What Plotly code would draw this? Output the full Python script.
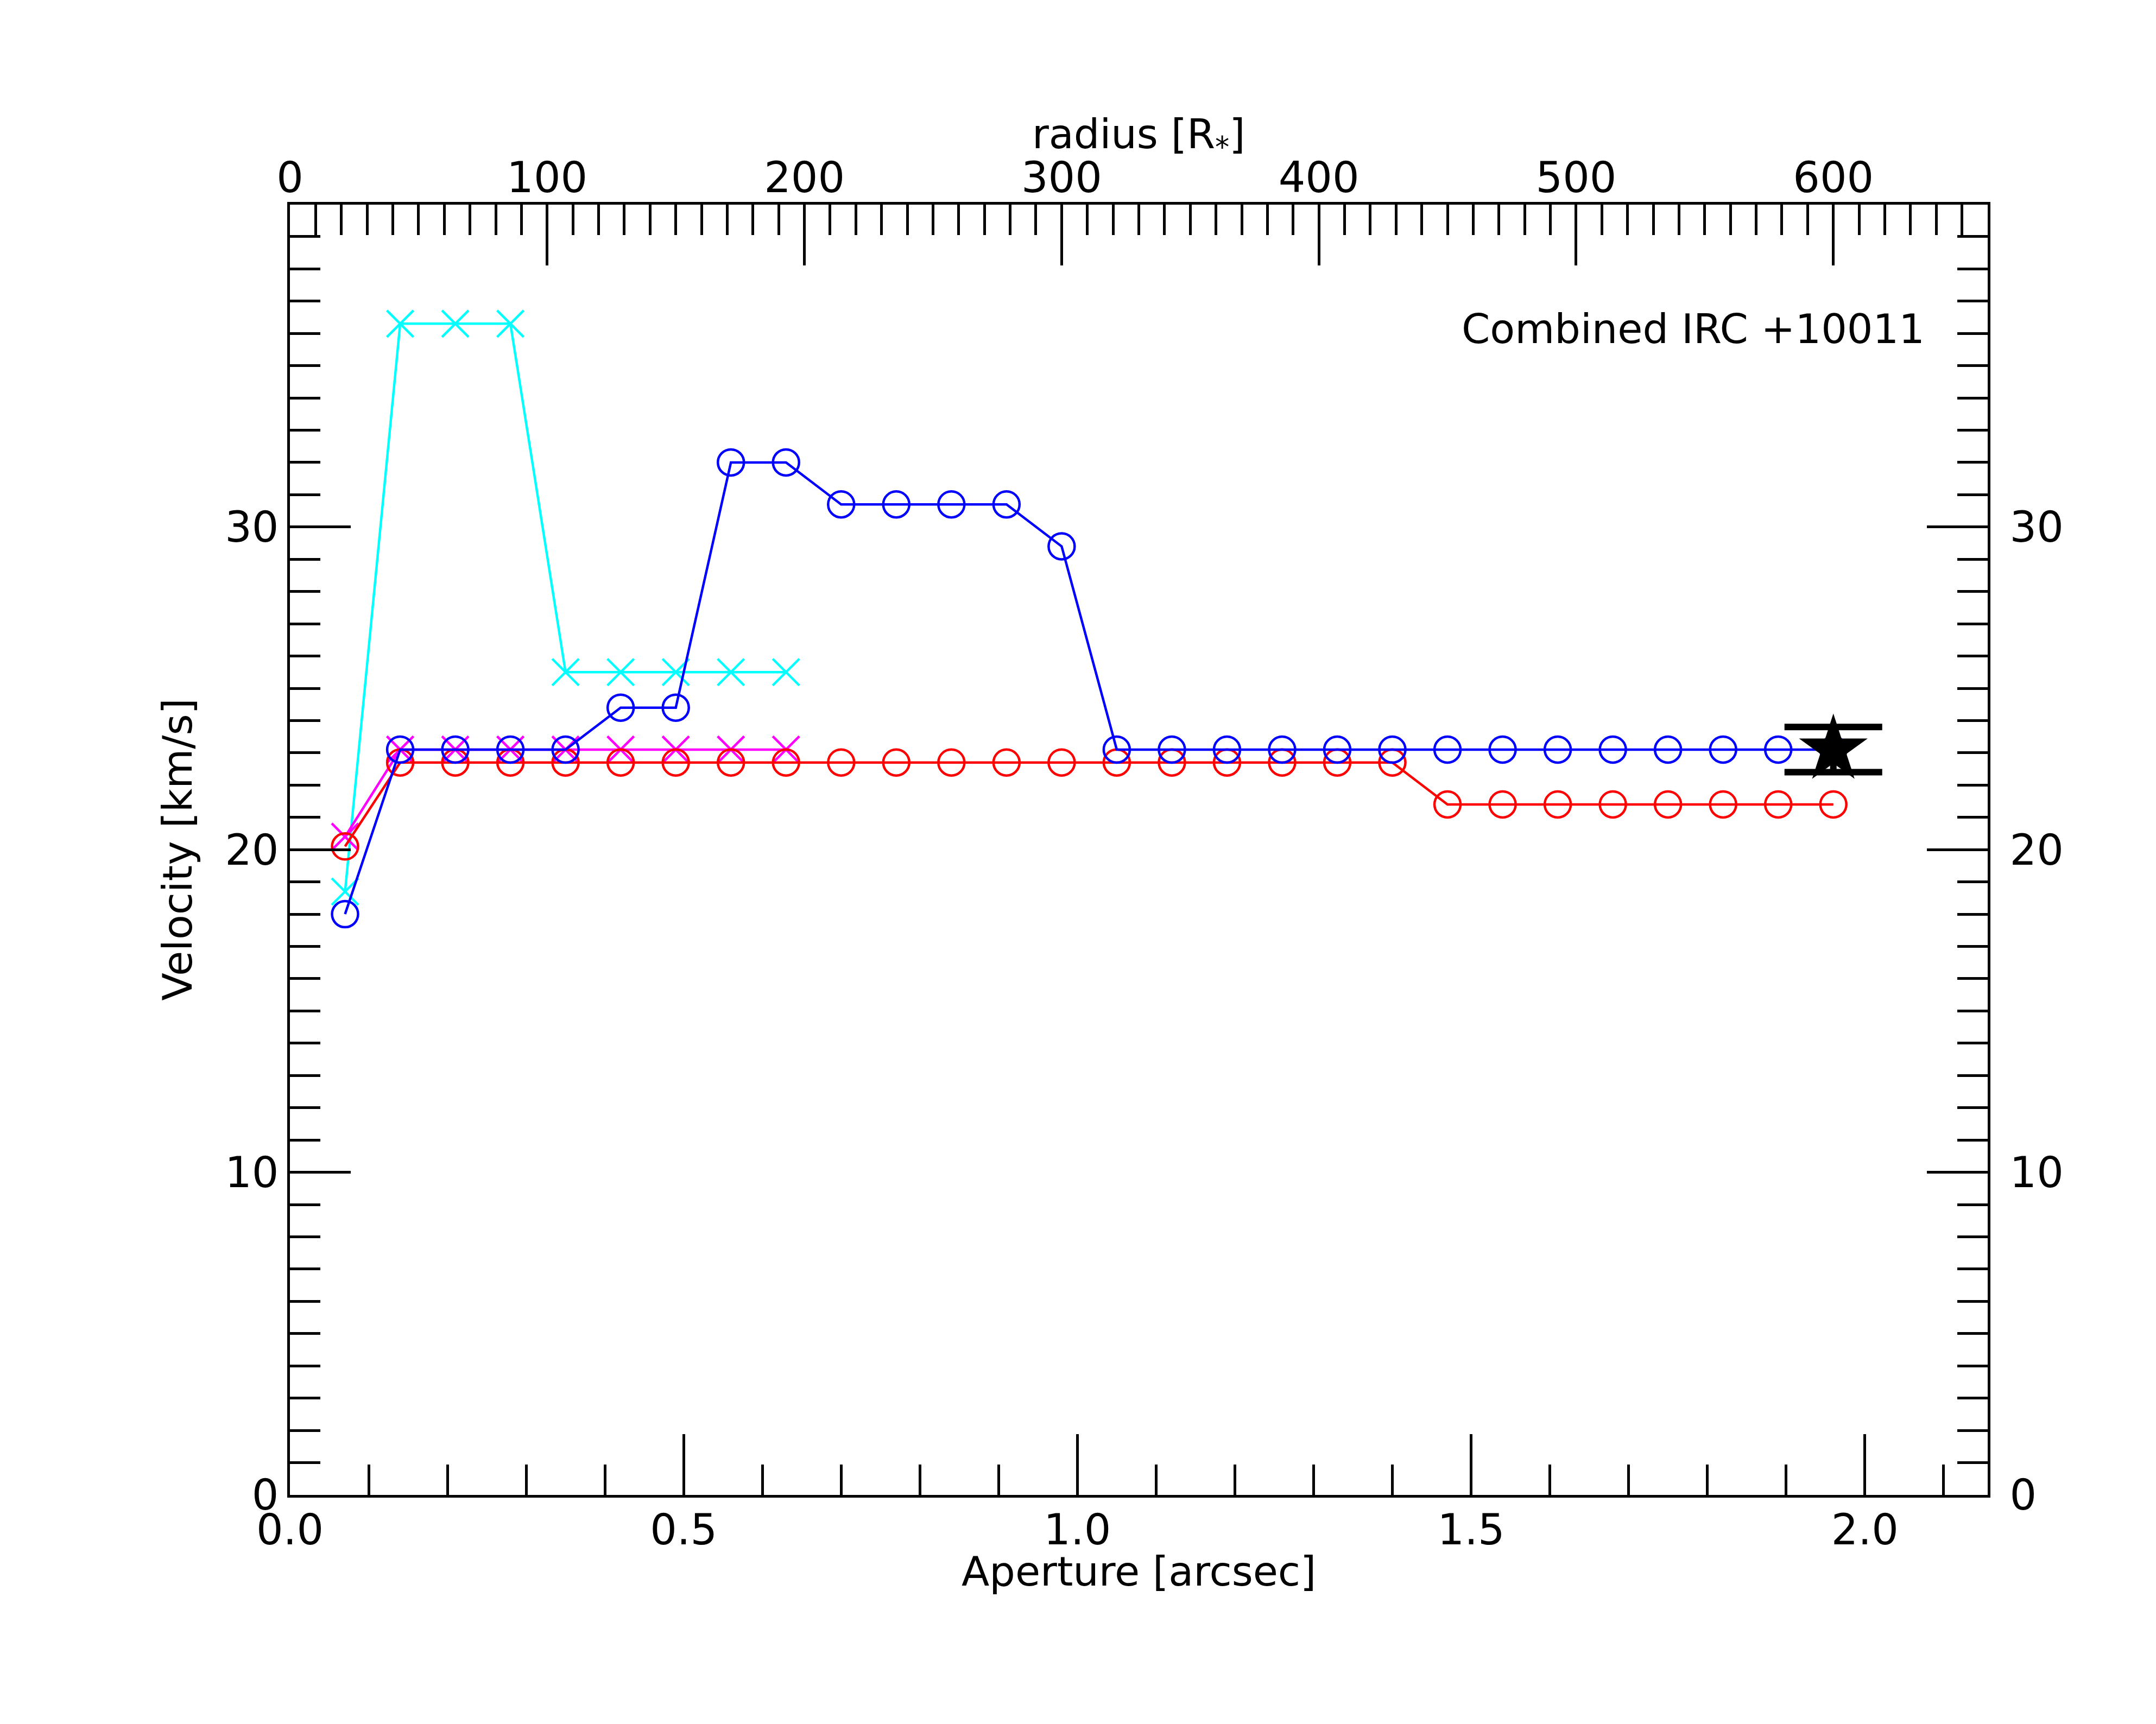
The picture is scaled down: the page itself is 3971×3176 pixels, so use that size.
import plotly.graph_objects as go

# Aperture [arcsec] of each point
aperture = [0.07, 0.14, 0.21, 0.28, 0.35, 0.42, 0.49, 0.56, 0.63, 0.70,
            0.77, 0.84, 0.91, 0.98, 1.05, 1.12, 1.19, 1.26, 1.33, 1.40,
            1.47, 1.54, 1.61, 1.68, 1.75, 1.82, 1.89, 1.96]

# velocities [km/s]
v_blue = [18.0, 23.1, 23.1, 23.1, 23.1, 24.4, 24.4, 32.0, 32.0, 30.7,
          30.7, 30.7, 30.7, 29.4, 23.1, 23.1, 23.1, 23.1, 23.1, 23.1,
          23.1, 23.1, 23.1, 23.1, 23.1, 23.1, 23.1, 23.1]
v_red = [20.1, 22.7, 22.7, 22.7, 22.7, 22.7, 22.7, 22.7, 22.7, 22.7,
         22.7, 22.7, 22.7, 22.7, 22.7, 22.7, 22.7, 22.7, 22.7, 22.7,
         21.4, 21.4, 21.4, 21.4, 21.4, 21.4, 21.4, 21.4]
aperture_short = [0.07, 0.14, 0.21, 0.28, 0.35, 0.42, 0.49, 0.56, 0.63]
v_cyan = [18.7, 36.3, 36.3, 36.3, 25.5, 25.5, 25.5, 25.5, 25.5]
v_magenta = [20.4, 23.1, 23.1, 23.1, 23.1, 23.1, 23.1, 23.1, 23.1]

# literature value (star)
star_x = [1.96]
star_y = [23.1]
star_err = [0.7]

label = "Combined IRC +10011"
xtitle = "Aperture [arcsec]"
x2title = "radius [R<sub>*</sub>]"
ytitle = "Velocity [km/s]"

FONT = "DejaVu Sans"
FS = 78
FT = 75
LW = 4.5

fig = go.Figure()

fig.add_trace(go.Scatter(x=aperture_short, y=v_cyan, mode="lines+markers",
                         line=dict(color="#00FFFF", width=LW),
                         marker=dict(symbol="x-thin-open", size=49,
                                     line=dict(color="#00FFFF", width=LW))))
fig.add_trace(go.Scatter(x=aperture_short, y=v_magenta, mode="lines+markers",
                         line=dict(color="#FF00FF", width=LW),
                         marker=dict(symbol="x-thin-open", size=49,
                                     line=dict(color="#FF00FF", width=LW))))
fig.add_trace(go.Scatter(x=aperture, y=v_red, mode="lines+markers",
                         line=dict(color="#FF0000", width=LW),
                         marker=dict(symbol="circle-open", size=48,
                                     line=dict(color="#FF0000", width=LW))))
fig.add_trace(go.Scatter(x=aperture, y=v_blue, mode="lines+markers",
                         line=dict(color="#0000FF", width=LW),
                         marker=dict(symbol="circle-open", size=48,
                                     line=dict(color="#0000FF", width=LW))))
fig.add_trace(go.Scatter(x=star_x, y=star_y, mode="markers",
                         marker=dict(symbol="star", size=95, color="black"),
                         error_y=dict(type="data", array=star_err, color="black",
                                      thickness=12, width=90)))
# dummy trace so the top / right axes get drawn
fig.add_trace(go.Scatter(x=[], y=[], xaxis="x2", yaxis="y2", hoverinfo="skip"))

tickfont = dict(family=FONT, size=FS, color="black")
common = dict(showline=True, linewidth=5, linecolor="black", showgrid=False,
              zeroline=False, ticks="inside", tickwidth=5, tickcolor="black",
              ticklen=112, tickfont=tickfont)


def minor(step):
    return dict(dtick=step, tick0=0, ticks="inside", ticklen=56,
                tickwidth=5, tickcolor="black")


def title_note(text, x, y, angle=0):
    return dict(text=text, xref="paper", yref="paper", x=x, y=y,
                xanchor="center", yanchor="middle", showarrow=False,
                textangle=angle, font=dict(family=FONT, size=FT, color="black"))


fig.update_layout(
    width=3971, height=3176, autosize=False,
    template="none",
    paper_bgcolor="white", plot_bgcolor="white",
    showlegend=False,
    font=dict(family=FONT, size=FS, color="black"),
    margin=dict(l=526, r=318, t=369, b=430, pad=0),
    xaxis=dict(range=[0, 2.156], tickmode="linear", tick0=0, dtick=0.5,
               tickformat=".1f", minor=minor(0.1), ticklabelstandoff=-8,
               **common),
    xaxis2=dict(range=[0, 660], overlaying="x", side="top", anchor="y2",
                tickmode="linear", tick0=0, dtick=100, minor=minor(10),
                ticklabelstandoff=-13, **common),
    yaxis=dict(range=[0, 39.99], tickmode="linear", tick0=0, dtick=10,
               minor=minor(1), **common),
    yaxis2=dict(range=[0, 39.99], overlaying="y", side="right", anchor="x2",
                tickmode="linear", tick0=0, dtick=10, minor=minor(1),
                ticklabelstandoff=20, **common),
    annotations=[
        dict(text=label, xref="paper", yref="paper", x=0.9635, y=0.9037,
             xanchor="right", yanchor="middle", showarrow=False,
             font=dict(family=FONT, size=FT, color="black")),
        title_note(xtitle, 0.5, -0.0593),
        title_note(x2title, 0.5, 1.0526),
        title_note(ytitle, -0.0665, 0.5, angle=-90),
    ],
)

fig.write_html("out.html")
